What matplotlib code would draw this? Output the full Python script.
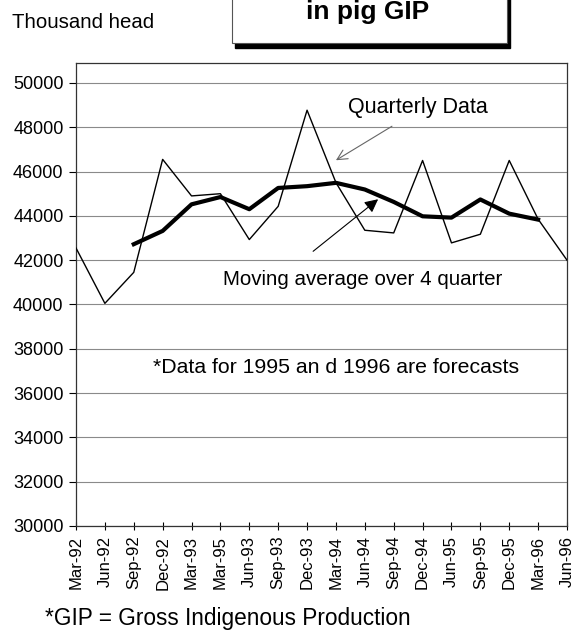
import matplotlib
matplotlib.use("Agg")
import matplotlib.pyplot as plt
from matplotlib.patches import Rectangle

plt.rcParams['font.family'] = ['Liberation Sans', 'DejaVu Sans']

quarters = ["Mar-92", "Jun-92", "Sep-92", "Dec-92", "Mar-93", "Mar-95", "Jun-93",
            "Sep-93", "Dec-93", "Mar-94", "Jun-94", "Sep-94", "Dec-94", "Jun-95",
            "Sep-95", "Dec-95", "Mar-96", "Jun-96"]
quarterly = [42550, 40050, 41450, 46550, 44900, 45000, 42930, 44430, 48770,
             45500, 43350, 43230, 46500, 42780, 43170, 46500, 43850, 42000]
moving_avg = [None, None, 42720, 43320, 44520, 44850, 44300, 45260, 45340,
              45490, 45190, 44630, 43980, 43920, 44740, 44100, 43830, None]
y_ticks = [30000, 32000, 34000, 36000, 38000, 40000, 42000, 44000, 46000, 48000, 50000]

W, H = 574, 630
fig = plt.figure(figsize=(W / 100, H / 100), dpi=100)
ax = fig.add_axes([76 / W, 1 - 526 / H, (567 - 76) / W, (526 - 63) / H])

x = list(range(len(quarters)))
ma_x = [i for i, v in zip(x, moving_avg) if v is not None]
ma_y = [v for v in moving_avg if v is not None]

ax.plot(x, quarterly, color='black', lw=1.0, zorder=3)
ax.plot(ma_x, ma_y, color='black', lw=3.0, zorder=4, solid_joinstyle='round')

ax.set_xlim(0, len(quarters) - 1)
ax.set_ylim(30000, 50900)
ax.set_yticks(y_ticks)
ax.set_yticklabels([str(v) for v in y_ticks], fontsize=13)
ax.set_xticks(x)
ax.set_xticklabels(quarters, rotation=90, fontsize=12)
ax.tick_params(axis='y', direction='out', length=5, width=0.8, pad=4)
ax.tick_params(axis='x', direction='inout', length=6, width=0.8, pad=4)
ax.grid(axis='y', color='#8a8a8a', lw=0.8)
ax.set_axisbelow(True)
for s in ax.spines.values():
    s.set_color('#333333')
    s.set_linewidth(0.9)

# Annotations
ax.text(11.84, 48900, "Quarterly Data", fontsize=15.5, ha='center', va='center')
ax.annotate("", xy=(9.0, 46510), xytext=(10.94, 48045),
            arrowprops=dict(arrowstyle='->', color='#666666', lw=0.8,
                            mutation_scale=18, shrinkA=0, shrinkB=0))
ax.text(5.09, 41130, "Moving average over 4 quarter", fontsize=14.8,
        ha='left', va='center')
ax.annotate("", xy=(10.46, 44750), xytext=(8.21, 42400),
            arrowprops=dict(arrowstyle='-|>', color='#666666', fc='black', ec='black',
                            lw=0.8, mutation_scale=20, shrinkA=0, shrinkB=0))
ax.text(2.67, 37160, "*Data for 1995 an d 1996 are forecasts", fontsize=15.35,
        ha='left', va='center')

# Header text
fig.text(12 / W, 1 - 23 / H, "Thousand head", fontsize=14.7, ha='left', va='center')

# Title box with shadow
shadow = Rectangle((235 / W, 1 - 48 / H), (510 - 235) / W, 80 / H,
                   transform=fig.transFigure, facecolor='black', edgecolor='black',
                   zorder=1)
box = Rectangle((232 / W, 1 - 43 / H), (507 - 232) / W, 80 / H,
                transform=fig.transFigure, facecolor='white', edgecolor='#555555',
                lw=0.8, zorder=2)
fig.patches.extend([shadow, box])
fig.text(368 / W, 1 - 12 / H, "in pig GIP", fontsize=19, fontweight='bold',
         ha='center', va='center', zorder=3)

fig.text(45 / W, 1 - 618 / H, "*GIP = Gross Indigenous Production", fontsize=16.3,
         ha='left', va='center')

fig.savefig("out.png", dpi=100)
